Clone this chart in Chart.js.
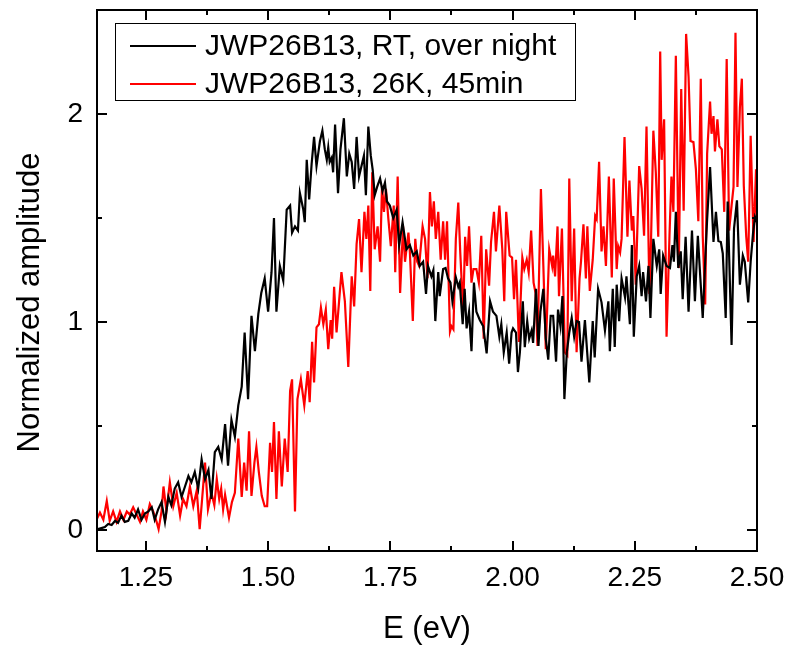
<!DOCTYPE html>
<html>
<head>
<meta charset="utf-8">
<script src="https://cdn.jsdelivr.net/npm/chart.js@4.4.0/dist/chart.umd.min.js"></script>
<style>
  html, body { margin: 0; padding: 0; background: #fff; }
</style>
</head>
<body>
<canvas id="spectrum" width="788" height="648"></canvas>
<script>
// axis ticks
const xTicks = [1.25, 1.5, 1.75, 2.0, 2.25, 2.5];
const xMinorTicks = [1.375, 1.625, 1.875, 2.125, 2.375];
const yTicks = [0, 1, 2];
const yMinorTicks = [0.5, 1.5];
const yTitle = 'Normalized amplitude';

// RT, over night (black)
const rtLabel = 'JWP26B13, RT, over night';
const rtE = [
  1.152,1.159,1.166,1.173,1.180,1.187,1.193,1.200,1.207,1.214,
  1.221,1.227,1.234,1.241,1.248,1.255,1.262,1.268,1.275,1.282,
  1.289,1.296,1.302,1.309,1.316,1.323,1.330,1.337,1.343,1.350,
  1.357,1.364,1.371,1.378,1.384,1.391,1.398,1.405,1.412,1.418,
  1.425,1.432,1.439,1.446,1.452,1.459,1.466,1.473,1.480,1.486,
  1.493,1.500,1.507,1.512,1.517,1.524,1.531,1.538,1.545,1.549,
  1.555,1.561,1.565,1.572,1.575,1.579,1.584,1.589,1.594,1.599,
  1.606,1.611,1.616,1.620,1.623,1.626,1.630,1.633,1.637,1.643,
  1.648,1.655,1.661,1.666,1.671,1.676,1.681,1.686,1.691,1.696,
  1.700,1.705,1.710,1.714,1.718,1.723,1.729,1.734,1.739,1.743,
  1.749,1.756,1.763,1.768,1.775,1.783,1.790,1.797,1.804,1.810,
  1.817,1.823,1.827,1.834,1.838,1.842,1.848,1.851,1.858,1.863,
  1.868,1.873,1.877,1.884,1.889,1.892,1.898,1.902,1.906,1.911,
  1.916,1.921,1.926,1.933,1.940,1.947,1.954,1.960,1.967,1.973,
  1.977,1.982,1.988,1.993,1.998,2.001,2.007,2.011,2.015,2.021,
  2.025,2.030,2.034,2.039,2.042,2.048,2.053,2.057,2.063,2.068,
  2.073,2.078,2.083,2.089,2.093,2.098,2.102,2.106,2.111,2.116,
  2.121,2.126,2.131,2.136,2.141,2.148,2.157,2.164,2.168,2.175,
  2.182,2.189,2.196,2.199,2.205,2.209,2.213,2.218,2.223,2.230,
  2.233,2.240,2.244,2.248,2.254,2.259,2.264,2.267,2.273,2.278,
  2.282,2.288,2.295,2.300,2.303,2.308,2.315,2.322,2.327,2.330,
  2.334,2.339,2.344,2.348,2.354,2.360,2.367,2.373,2.379,2.383,
  2.389,2.394,2.398,2.404,2.411,2.416,2.421,2.426,2.430,2.436,
  2.440,2.448,2.453,2.459,2.465,2.471,2.475,2.482,2.487,2.492,
  2.496,2.500
];
const rtAmp = [
  0.005,0.01,0.015,0.03,0.025,0.045,0.035,0.07,0.04,0.045,
  0.08,0.06,0.10,0.05,0.08,0.09,0.11,0.05,0.10,0.135,
  0.04,0.16,0.12,0.20,0.23,0.16,0.21,0.26,0.23,0.28,
  0.20,0.34,0.245,0.29,0.15,0.375,0.40,0.34,0.51,0.31,
  0.53,0.45,0.60,0.69,0.95,0.63,1.03,0.86,1.04,1.14,
  1.21,1.05,1.24,1.50,1.05,1.27,1.20,1.54,1.56,1.43,
  1.46,1.44,1.62,1.54,1.48,1.78,1.59,1.76,1.89,1.75,
  1.87,1.92,1.83,1.78,1.84,1.77,1.79,1.72,1.95,1.62,
  1.83,1.98,1.70,1.81,1.77,1.64,1.89,1.70,1.75,1.80,
  1.61,1.94,1.80,1.73,1.61,1.65,1.69,1.63,1.67,1.58,
  1.56,1.50,1.54,1.37,1.48,1.35,1.37,1.32,1.34,1.27,
  1.29,1.135,1.27,1.22,1.25,1.005,1.24,1.125,1.255,1.26,
  1.21,1.19,1.10,1.215,1.17,1.19,0.99,1.16,0.97,1.05,
  0.86,1.19,1.05,1.01,0.98,0.85,1.10,1.05,1.03,0.93,
  0.99,0.855,0.95,0.80,0.95,0.97,0.95,0.76,0.855,1.10,
  0.88,1.005,0.92,0.96,0.90,1.16,0.885,1.05,1.16,0.92,
  0.82,1.03,1.03,0.81,1.06,0.98,1.125,0.63,0.855,0.95,
  1.02,0.93,1.005,1.00,0.81,1.01,0.71,1.005,0.83,1.16,
  1.095,0.96,1.10,0.86,1.16,0.88,1.18,1.005,1.21,1.12,
  1.22,0.99,1.37,0.93,1.22,1.27,1.125,1.24,1.10,1.27,
  1.02,1.40,1.27,1.35,1.135,1.32,1.27,1.26,1.37,1.29,
  1.53,1.26,1.34,1.11,1.41,1.05,1.44,1.10,1.415,1.255,
  1.02,1.29,1.495,1.745,1.385,1.53,1.39,1.385,1.33,1.02,
  1.58,0.89,1.45,1.585,1.18,1.32,1.29,1.095,1.29,1.43,
  1.505,1.48
];

// 26K, 45min (red)
const coldLabel = 'JWP26B13, 26K, 45min';
const coldE = [
  1.149,1.156,1.163,1.170,1.176,1.183,1.190,1.197,1.204,1.211,
  1.217,1.224,1.231,1.238,1.244,1.251,1.258,1.265,1.272,1.276,
  1.282,1.286,1.292,1.299,1.306,1.313,1.320,1.326,1.333,1.340,
  1.347,1.354,1.360,1.365,1.371,1.377,1.384,1.390,1.395,1.400,
  1.404,1.408,1.412,1.416,1.420,1.426,1.432,1.439,1.446,1.451,
  1.456,1.461,1.466,1.472,1.476,1.481,1.487,1.493,1.498,1.504,
  1.508,1.512,1.517,1.522,1.528,1.534,1.540,1.545,1.549,1.555,
  1.560,1.567,1.574,1.581,1.585,1.590,1.594,1.599,1.604,1.608,
  1.613,1.618,1.623,1.628,1.631,1.635,1.640,1.645,1.650,1.657,
  1.664,1.671,1.676,1.681,1.686,1.691,1.697,1.701,1.705,1.709,
  1.713,1.718,1.724,1.729,1.733,1.737,1.741,1.746,1.751,1.757,
  1.760,1.765,1.770,1.776,1.780,1.787,1.790,1.796,1.801,1.805,
  1.809,1.816,1.821,1.826,1.831,1.835,1.839,1.843,1.848,1.853,
  1.858,1.862,1.866,1.872,1.875,1.879,1.884,1.889,1.893,1.899,
  1.903,1.907,1.911,1.916,1.920,1.926,1.931,1.936,1.941,1.946,
  1.952,1.956,1.962,1.966,1.973,1.979,1.983,1.987,1.994,1.999,
  2.003,2.007,2.013,2.020,2.024,2.029,2.033,2.038,2.043,2.047,
  2.051,2.058,2.063,2.068,2.075,2.081,2.083,2.087,2.092,2.095,
  2.101,2.107,2.112,2.116,2.121,2.126,2.131,2.137,2.140,2.145,
  2.150,2.153,2.158,2.164,2.169,2.172,2.177,2.182,2.186,2.191,
  2.197,2.203,2.207,2.213,2.216,2.220,2.223,2.229,2.235,2.239,
  2.244,2.247,2.252,2.259,2.264,2.269,2.274,2.280,2.283,2.288,
  2.293,2.298,2.302,2.305,2.310,2.315,2.321,2.325,2.329,2.334,
  2.340,2.345,2.350,2.355,2.360,2.364,2.370,2.375,2.380,2.385,
  2.389,2.394,2.398,2.404,2.407,2.411,2.414,2.419,2.423,2.428,
  2.433,2.438,2.443,2.448,2.452,2.456,2.460,2.465,2.469,2.473,
  2.478,2.482,2.487,2.493,2.498,2.500
];
const coldAmp = [
  0.05,0.085,0.05,0.14,0.045,0.09,0.04,0.09,0.05,0.09,
  0.075,0.11,0.075,0.04,0.09,0.05,0.125,0.09,0.04,0.005,
  0.09,0.21,0.09,0.23,0.115,0.18,0.07,0.15,0.115,0.21,
  0.115,0.19,0.005,0.15,0.325,0.10,0.18,0.12,0.245,0.15,
  0.20,0.10,0.17,0.115,0.06,0.135,0.18,0.44,0.16,0.325,
  0.19,0.475,0.165,0.325,0.40,0.28,0.165,0.115,0.115,0.42,
  0.28,0.52,0.15,0.475,0.21,0.44,0.28,0.67,0.725,0.09,
  0.63,0.725,0.60,0.765,0.615,0.905,0.71,0.975,0.99,1.07,
  0.99,1.06,0.87,1.01,0.92,1.17,0.95,1.095,1.24,1.10,
  0.785,1.22,1.075,1.375,1.495,1.24,1.53,1.40,1.56,1.15,
  1.72,1.35,1.46,1.29,1.655,1.53,1.64,1.495,1.365,1.56,
  1.24,1.70,1.14,1.46,1.29,1.43,1.335,1.005,1.40,1.29,
  1.27,1.46,1.40,1.21,1.625,1.46,1.58,1.40,1.53,1.30,
  1.485,1.30,1.485,0.955,0.98,0.965,1.40,1.575,1.335,1.05,
  1.41,1.27,1.46,1.19,1.255,1.255,1.19,1.415,0.92,1.35,
  1.175,1.385,1.53,1.34,1.56,1.35,1.10,1.53,1.32,1.31,
  1.11,1.30,0.905,1.31,1.255,1.30,1.24,1.44,1.19,1.14,
  0.885,1.64,1.27,0.87,1.35,1.27,1.32,1.22,1.46,1.125,
  1.45,0.855,0.84,1.69,1.10,1.45,0.855,1.21,1.29,1.47,
  1.21,1.46,1.15,1.30,1.51,1.495,1.77,1.34,1.46,1.27,
  1.70,1.215,1.69,1.255,1.365,1.335,1.40,1.89,1.41,1.68,
  1.44,1.51,1.18,1.75,1.64,1.415,1.94,1.135,1.365,1.92,
  1.72,1.41,2.30,1.78,1.975,0.93,1.415,1.70,1.53,2.28,
  1.26,2.12,1.535,2.385,2.18,1.87,1.865,1.735,1.485,2.17,
  1.415,1.085,1.81,2.06,1.905,1.99,1.82,1.975,1.845,1.83,
  1.53,2.265,1.44,1.56,1.65,2.39,1.65,2.03,2.17,1.655,
  1.41,1.29,1.895,1.385,1.735,1.48
];

const FONT = '"Liberation Sans", Arial, sans-serif';

const toPoints = (xs, ys) => xs.map((x, i) => ({ x: x, y: ys[i] }));

// box round the plot, ticks pointing inward on all four sides
const frame = {
  id: 'frame',
  afterDraw(chart) {
    const { ctx, chartArea: a, scales: { x, y } } = chart;
    ctx.save();
    ctx.strokeStyle = '#000';
    ctx.lineWidth = 2;
    ctx.strokeRect(a.left, a.top, a.right - a.left, a.bottom - a.top);
    ctx.beginPath();
    const xTick = (v, len) => {
      const px = Math.round(x.getPixelForValue(v));
      ctx.moveTo(px, a.bottom); ctx.lineTo(px, a.bottom - len);
      ctx.moveTo(px, a.top); ctx.lineTo(px, a.top + len);
    };
    const yTick = (v, len) => {
      const py = Math.round(y.getPixelForValue(v));
      ctx.moveTo(a.left, py); ctx.lineTo(a.left + len, py);
      ctx.moveTo(a.right, py); ctx.lineTo(a.right - len, py);
    };
    xTicks.forEach(v => xTick(v, 10));
    xMinorTicks.forEach(v => xTick(v, 5));
    yTicks.forEach(v => yTick(v, 10));
    yMinorTicks.forEach(v => yTick(v, 5));
    ctx.stroke();

    // y title sits a little below the middle of the axis, as in the original
    ctx.translate(30, (a.top + a.bottom) / 2 + 22);
    ctx.rotate(-Math.PI / 2);
    ctx.fillStyle = '#000';
    ctx.font = '31px ' + FONT;
    ctx.textAlign = 'center';
    ctx.textBaseline = 'middle';
    ctx.fillText(yTitle, 0, 0);
    ctx.restore();
  }
};

// framed legend in the upper left corner
const legendBox = {
  id: 'legendBox',
  afterDraw(chart) {
    const { ctx, chartArea: a } = chart;
    const x0 = a.left + 18, y0 = a.top + 13, w = 460, h = 77;
    ctx.save();
    ctx.fillStyle = '#fff';
    ctx.fillRect(x0, y0, w, h);
    ctx.strokeStyle = '#000';
    ctx.lineWidth = 1;
    ctx.strokeRect(x0 + 0.5, y0 + 0.5, w, h);
    chart.data.datasets.forEach((ds, i) => {
      const ly = y0 + 23 + i * 38;
      ctx.strokeStyle = ds.borderColor;
      ctx.lineWidth = 2;
      ctx.beginPath();
      ctx.moveTo(x0 + 15, ly);
      ctx.lineTo(x0 + 81, ly);
      ctx.stroke();
      ctx.fillStyle = '#000';
      ctx.font = '30px ' + FONT;
      ctx.textBaseline = 'middle';
      ctx.fillText(ds.label, x0 + 90, ly + 1);
    });
    ctx.restore();
  }
};

new Chart(document.getElementById('spectrum'), {
  type: 'line',
  data: {
    datasets: [
      {
        label: rtLabel,
        data: toPoints(rtE, rtAmp),
        borderColor: '#000000',
        borderWidth: 2.2,
        pointRadius: 0,
        tension: 0
      },
      {
        label: coldLabel,
        data: toPoints(coldE, coldAmp),
        borderColor: '#ff0000',
        borderWidth: 2.2,
        pointRadius: 0,
        tension: 0
      }
    ]
  },
  options: {
    responsive: false,
    animation: false,
    layout: { padding: { top: 10, right: 31, bottom: 0, left: 0 } },
    plugins: {
      legend: { display: false },
      tooltip: { enabled: false }
    },
    scales: {
      x: {
        type: 'linear',
        min: 1.15,
        max: 2.5,
        grid: { display: false, drawTicks: false },
        border: { display: false },
        afterBuildTicks: s => { s.ticks = xTicks.map(v => ({ value: v })); },
        afterFit: s => {
          s.height = 97;
          s.paddingLeft = 0;
          s.paddingRight = 0;
        },
        ticks: {
          color: '#000',
          font: { family: FONT, size: 28 },
          padding: 10,
          maxRotation: 0,
          autoSkip: false,
          callback: v => v.toFixed(2)
        },
        title: {
          display: true,
          text: 'E (eV)',
          color: '#000',
          font: { family: FONT, size: 31 },
          padding: { top: 0, bottom: 0 }
        }
      },
      y: {
        type: 'linear',
        min: -0.1,
        max: 2.5,
        grid: { display: false, drawTicks: false },
        border: { display: false },
        afterBuildTicks: s => { s.ticks = yTicks.map(v => ({ value: v })); },
        afterFit: s => {
          s.width = 97;
          s.paddingTop = 0;
          s.paddingBottom = 0;
        },
        ticks: {
          color: '#000',
          font: { family: FONT, size: 28 },
          padding: 14,
          callback: v => String(v)
        }
      }
    }
  },
  plugins: [frame, legendBox]
});
</script>
</body>
</html>
